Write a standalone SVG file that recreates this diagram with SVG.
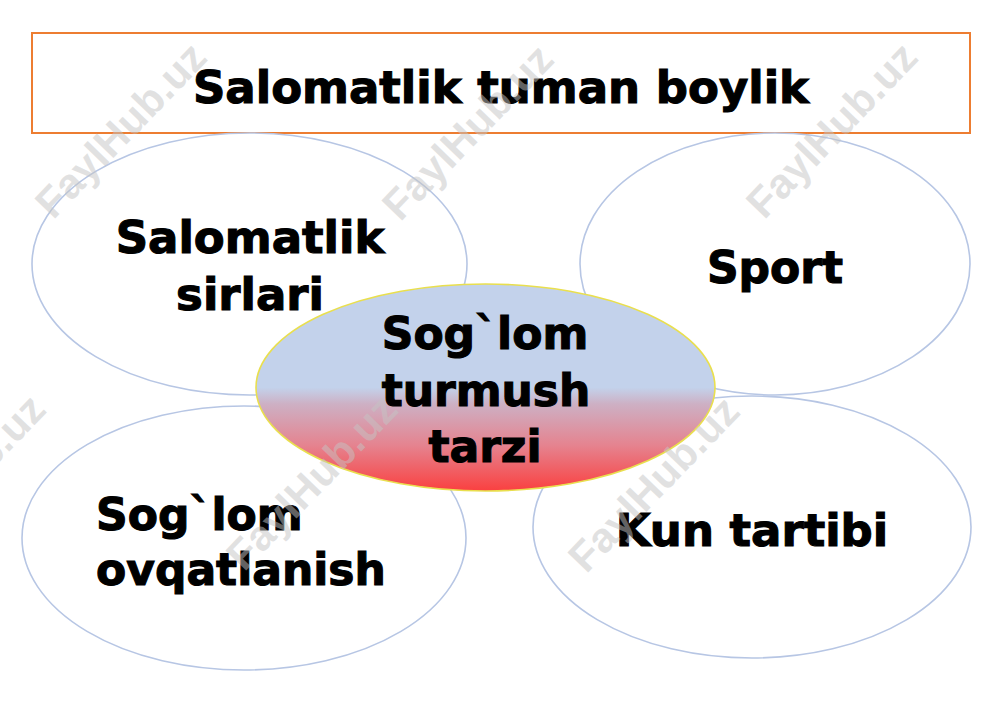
<svg xmlns="http://www.w3.org/2000/svg" width="1000" height="703" viewBox="0 0 1000 703">
  <defs>
    <linearGradient id="centerGrad" x1="0" y1="0" x2="0" y2="1">
      <stop offset="0" stop-color="#C3D2EB"/>
      <stop offset="0.5" stop-color="#C3D2EB"/>
      <stop offset="0.58" stop-color="#CDB0C4"/>
      <stop offset="0.78" stop-color="#E5838F"/>
      <stop offset="1" stop-color="#FA4040"/>
    </linearGradient>
    <style>
      .bubble { fill: #FFFFFF; stroke: #B7C6E4; stroke-width: 1.6; }
      .lbl { font-family: "DejaVu Sans", Verdana, sans-serif; font-weight: bold; font-size: 44px; fill: #000000; stroke: #000000; stroke-width: 1.1; }
      .mid { text-anchor: middle; }
      .wm { font-family: "Liberation Sans", Arial, sans-serif; font-weight: bold; font-size: 42px; fill: #C4C4C4; fill-opacity: 0.5; text-anchor: middle; }
    </style>
  </defs>
  <rect width="1000" height="703" fill="#FFFFFF"/>

  <g id="title">
    <rect x="32" y="33" width="938" height="100" fill="#FFFFFF" stroke="#ED7D31" stroke-width="2"/>
    <text class="lbl mid" x="501" y="103" style="font-size:45px">Salomatlik tuman boylik</text>
  </g>

  <g id="connectors"></g>

  <g id="node-salomatlik-sirlari">
    <ellipse class="bubble" cx="249.5" cy="264" rx="217.5" ry="131"/>
    <text class="lbl mid" x="250" y="253" style="font-size:45px">Salomatlik</text>
    <text class="lbl mid" x="250" y="310" style="font-size:45px">sirlari</text>
  </g>

  <g id="node-sport">
    <ellipse class="bubble" cx="775" cy="264" rx="195" ry="131"/>
    <text class="lbl mid" x="775" y="283">Sport</text>
  </g>

  <g id="node-soglom-ovqatlanish">
    <ellipse class="bubble" cx="244" cy="538" rx="222" ry="132"/>
    <text class="lbl" x="96" y="530">Sog`lom</text>
    <text class="lbl" x="96" y="585">ovqatlanish</text>
  </g>

  <g id="node-kun-tartibi">
    <ellipse class="bubble" cx="752" cy="527" rx="219" ry="131"/>
    <text class="lbl mid" x="752" y="546" style="font-size:45px">Kun tartibi</text>
  </g>

  <g id="node-center">
    <ellipse cx="485.5" cy="387.5" rx="229.5" ry="103.5" fill="url(#centerGrad)" stroke="#E9DF4E" stroke-width="1.6"/>
    <text class="lbl mid" x="485" y="349">Sog`lom</text>
    <text class="lbl mid" x="486" y="406">turmush</text>
    <text class="lbl mid" x="485" y="462">tarzi</text>
  </g>

  <g id="watermarks">
    <text class="wm" transform="translate(131,140) rotate(-46)">FaylHub.uz</text>
    <text class="wm" transform="translate(478,142) rotate(-46)">FaylHub.uz</text>
    <text class="wm" transform="translate(842,140) rotate(-46)">FaylHub.uz</text>
    <text class="wm" transform="translate(-30,492) rotate(-46)">FaylHub.uz</text>
    <text class="wm" transform="translate(322,492) rotate(-46)">FaylHub.uz</text>
    <text class="wm" transform="translate(664,494) rotate(-46)">FaylHub.uz</text>
  </g>
</svg>
